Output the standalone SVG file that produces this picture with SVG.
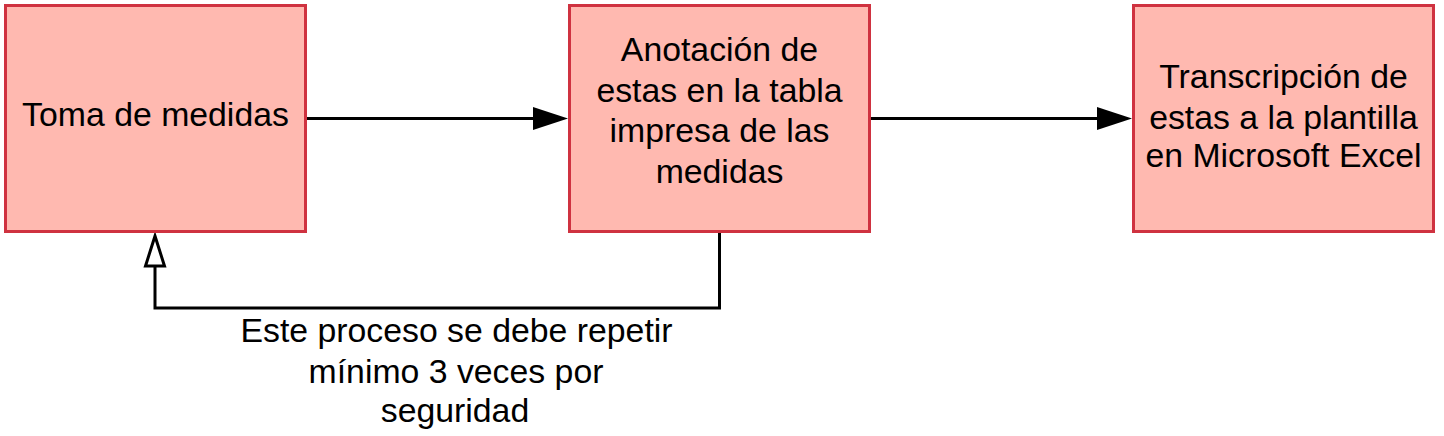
<svg xmlns="http://www.w3.org/2000/svg" width="1444" height="436" viewBox="0 0 1444 436">
<style>
.box{fill:#ffb9b0;stroke:#cf3240;stroke-width:3}
.t{font-family:"Liberation Sans",Arial,sans-serif;font-size:33.8px;fill:#000;text-anchor:middle}
.c{fill:none;stroke:#000;stroke-width:3}
.head{fill:#000}
.ohead{fill:#fff;stroke:#000;stroke-width:3}
</style>
<g id="connectors">
<path class="c" d="M306,118.5 L534,118.5" />
<path class="head" d="M533,107 L568,118.5 L533,130 Z"/>
<path class="c" d="M870,118.5 L1098,118.5" />
<path class="head" d="M1097,107 L1132,118.5 L1097,130 Z"/>
<path class="c" d="M719.5,232 L719.5,308 L155,308 L155,266" />
<path class="ohead" d="M155,236 L164.5,266 L145.5,266 Z"/>
<text class="t" x="456.5" y="342">Este proceso se debe repetir</text>
<text class="t" x="456" y="382.5">mínimo 3 veces por</text>
<text class="t" x="455" y="422">seguridad</text>
</g>
<g id="node1">
<rect class="box" x="5.5" y="5.5" width="300" height="226"/>
<text class="t" x="155.5" y="126">Toma de medidas</text>
</g>
<g id="node2">
<rect class="box" x="569.5" y="5.5" width="300" height="226"/>
<text class="t" x="719.5" y="61">Anotación de</text>
<text class="t" x="719.5" y="101.5">estas en la tabla</text>
<text class="t" x="719.5" y="142">impresa de las</text>
<text class="t" x="719.5" y="182.5">medidas</text>
</g>
<g id="node3">
<rect class="box" x="1133.5" y="5.5" width="300" height="226"/>
<text class="t" x="1283.5" y="88">Transcripción de</text>
<text class="t" x="1283.5" y="128.5">estas a la plantilla</text>
<text class="t" x="1283.5" y="167">en Microsoft Excel</text>
</g>
</svg>
